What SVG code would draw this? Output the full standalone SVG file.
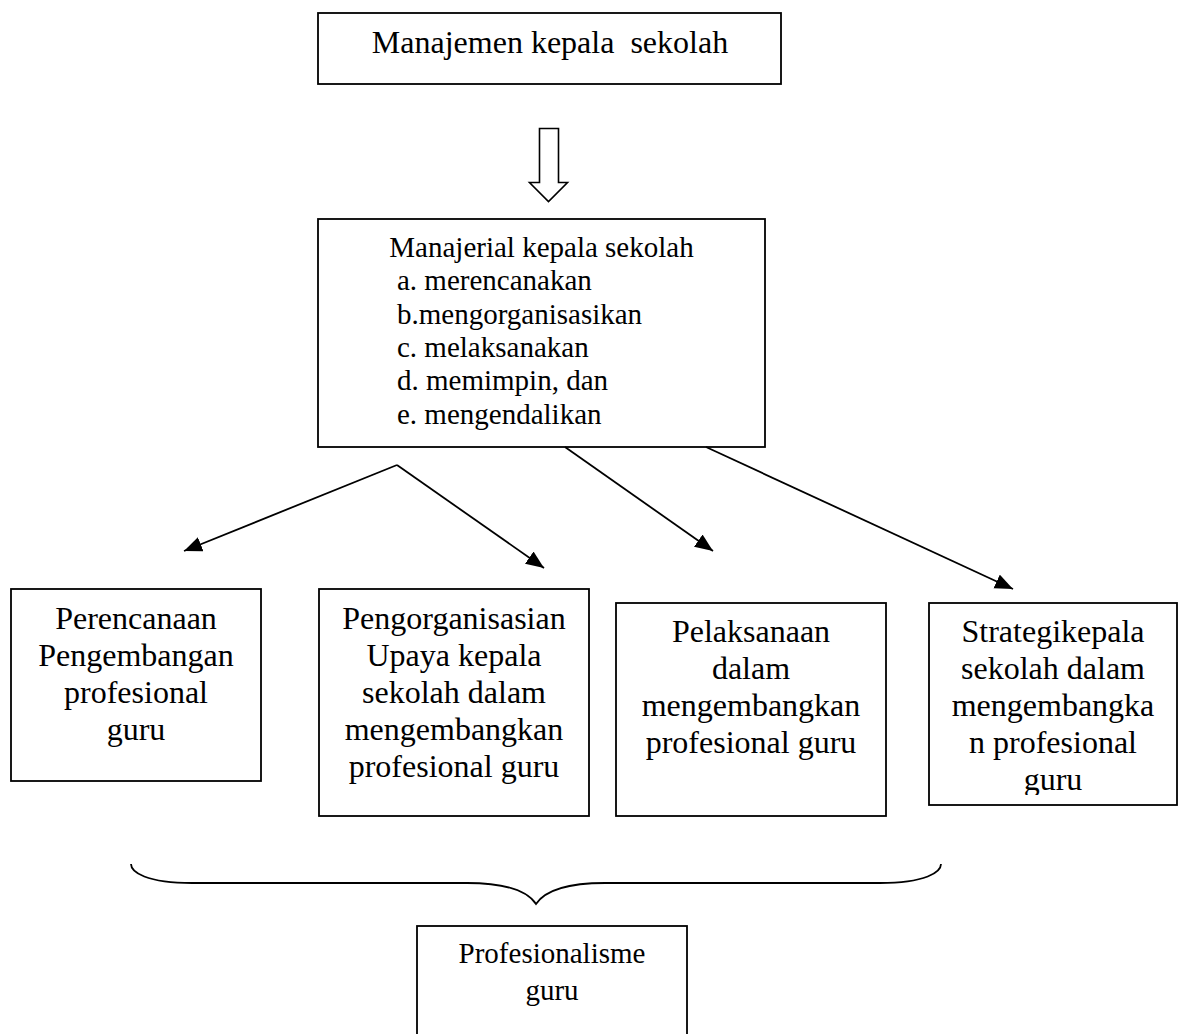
<svg xmlns="http://www.w3.org/2000/svg" width="1179" height="1034" viewBox="0 0 1179 1034">
  <style>
    .box { fill: #ffffff; stroke: #000000; stroke-width: 1.8; }
    .t32 { font-family: "Liberation Serif", "Times New Roman", serif; font-size: 32px; fill: #000000; text-anchor: middle; }
    .t29 { font-family: "Liberation Serif", "Times New Roman", serif; font-size: 29px; fill: #000000; }
    .mid { text-anchor: middle; }
    .conn { fill: none; stroke: #000000; stroke-width: 1.8; }
  </style>
  <defs>
    <marker id="arrow" markerUnits="userSpaceOnUse" markerWidth="19" markerHeight="16" refX="18" refY="7.5" orient="auto">
      <path d="M0,0 L18,7.5 L0,15 Z" fill="#000000"/>
    </marker>
    <clipPath id="clip4">
      <rect x="929" y="603" width="248" height="192"/>
    </clipPath>
  </defs>

  <rect width="1179" height="1034" fill="#ffffff"/>

  <g id="node-manajemen">
    <rect class="box" x="318" y="13" width="463" height="71"/>
    <text class="t32" x="550" y="53" xml:space="preserve">Manajemen kepala  sekolah</text>
  </g>

  <g id="block-arrow">
    <path d="M539.5,128.5 H558.5 V182.5 H567.5 L548.5,201.5 L529.5,182.5 H539.5 Z" fill="#ffffff" stroke="#000000" stroke-width="1.6"/>
  </g>

  <g id="node-manajerial">
    <rect class="box" x="318" y="219" width="447" height="228"/>
    <text class="t29 mid" x="541.5" y="257">Manajerial kepala sekolah</text>
    <text class="t29" x="397" y="290">a. merencanakan</text>
    <text class="t29" x="397" y="324">b.mengorganisasikan</text>
    <text class="t29" x="397" y="357">c. melaksanakan</text>
    <text class="t29" x="397" y="390">d. memimpin, dan</text>
    <text class="t29" x="397" y="424">e. mengendalikan</text>
  </g>

  <g id="connectors">
    <line class="conn" x1="397" y1="465" x2="184" y2="551" marker-end="url(#arrow)"/>
    <line class="conn" x1="397" y1="465" x2="544" y2="568" marker-end="url(#arrow)"/>
    <line class="conn" x1="565" y1="447" x2="713" y2="551" marker-end="url(#arrow)"/>
    <line class="conn" x1="706" y1="447" x2="1013" y2="589" marker-end="url(#arrow)"/>
  </g>

  <g id="node-perencanaan">
    <rect class="box" x="11" y="589" width="250" height="192"/>
    <text class="t32" x="136" y="629">Perencanaan</text>
    <text class="t32" x="136" y="666">Pengembangan</text>
    <text class="t32" x="136" y="703">profesional</text>
    <text class="t32" x="136" y="740">guru</text>
  </g>

  <g id="node-pengorganisasian">
    <rect class="box" x="319" y="589" width="270" height="227"/>
    <text class="t32" x="454" y="629">Pengorganisasian</text>
    <text class="t32" x="454" y="666">Upaya kepala</text>
    <text class="t32" x="454" y="703">sekolah dalam</text>
    <text class="t32" x="454" y="740">mengembangkan</text>
    <text class="t32" x="454" y="777">profesional guru</text>
  </g>

  <g id="node-pelaksanaan">
    <rect class="box" x="616" y="603" width="270" height="213"/>
    <text class="t32" x="751" y="642">Pelaksanaan</text>
    <text class="t32" x="751" y="679">dalam</text>
    <text class="t32" x="751" y="716">mengembangkan</text>
    <text class="t32" x="751" y="753">profesional guru</text>
  </g>

  <g id="node-strategi">
    <rect class="box" x="929" y="603" width="248" height="202"/>
    <g clip-path="url(#clip4)">
      <text class="t32" x="1053" y="642">Strategikepala</text>
      <text class="t32" x="1053" y="679">sekolah dalam</text>
      <text class="t32" x="1053" y="716">mengembangka</text>
      <text class="t32" x="1053" y="753">n profesional</text>
      <text class="t32" x="1053" y="790">guru</text>
    </g>
  </g>

  <g id="brace">
    <path class="conn" d="M131,864 C131,872 146,883 192,883 H467 C502,883 526,889 536,904 C546,889 570,883 605,883 H880 C926,883 941,872 941,864"/>
  </g>

  <g id="node-profesionalisme">
    <rect class="box" x="417" y="926" width="270" height="120"/>
    <text class="t29 mid" x="552" y="963">Profesionalisme</text>
    <text class="t29 mid" x="552" y="1000">guru</text>
  </g>
</svg>
